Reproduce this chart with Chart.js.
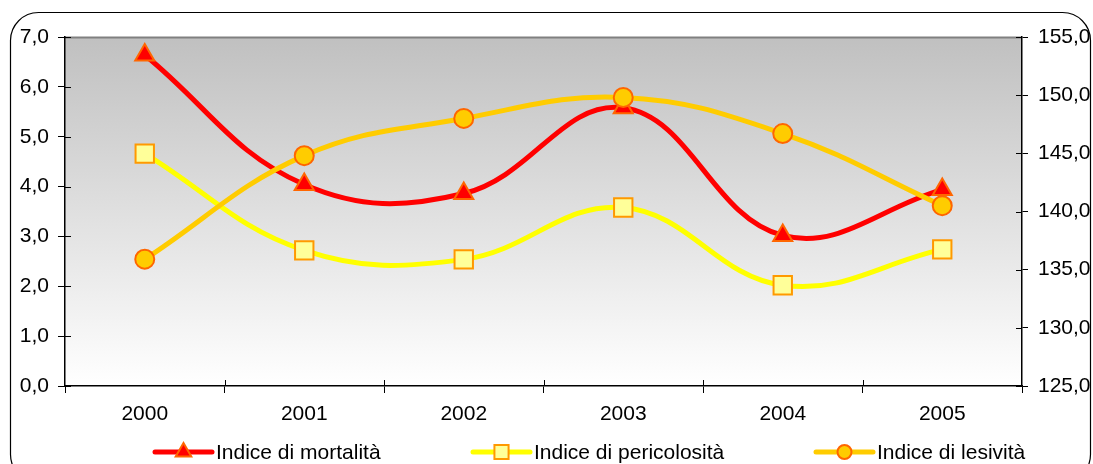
<!DOCTYPE html>
<html>
<head>
<meta charset="utf-8">
<script src="https://cdn.jsdelivr.net/npm/chart.js@4"></script>
<style>
  html, body { margin: 0; padding: 0; background: #ffffff; }
  #wrap { width: 1093px; height: 464px; }
</style>
</head>
<body>
<div id="wrap"><canvas id="myChart" width="1093" height="464"></canvas></div>
<script>
// Data
var years = ['2000', '2001', '2002', '2003', '2004', '2005'];
var mortalita = [6.64, 4.04, 3.86, 5.58, 3.02, 3.94];
var pericolosita = [4.66, 2.72, 2.54, 3.58, 2.02, 2.74];
var lesivita = [135.9, 144.8, 148.0, 149.8, 146.7, 140.5];
var seriesNames = ['Indice di mortalità', 'Indice di pericolosità', 'Indice di lesività'];

var FONT = '"Liberation Sans", Arial, sans-serif';
Chart.defaults.font.family = FONT;
Chart.defaults.font.size = 21;
Chart.defaults.color = '#000000';

function fmt(v) {
  return Number(v).toFixed(1).replace('.', ',');
}

// background: rounded frame + grey gradient in the plot area
var backgroundPlugin = {
  id: 'bg',
  beforeDraw: function(chart) {
    var ctx = chart.ctx;
    var a = chart.chartArea;
    ctx.save();
    // outer rounded border
    ctx.beginPath();
    ctx.roundRect(10.5, 12.5, 1080, 470, 28);
    ctx.strokeStyle = '#000000';
    ctx.lineWidth = 1.2;
    ctx.stroke();
    // plot area gradient
    var g = ctx.createLinearGradient(0, a.top, 0, a.bottom);
    g.addColorStop(0, '#c0c0c0');
    g.addColorStop(1, '#ffffff');
    ctx.fillStyle = g;
    ctx.fillRect(a.left, a.top, a.right - a.left, a.bottom - a.top);
    // grey top edge
    ctx.beginPath();
    ctx.moveTo(a.left, a.top + 0.5);
    ctx.lineTo(a.right, a.top + 0.5);
    ctx.strokeStyle = '#808080';
    ctx.lineWidth = 2;
    ctx.stroke();
    ctx.restore();
  },
  // tick marks cross the axis lines: add the inner half
  beforeDatasetsDraw: function(chart) {
    var ctx = chart.ctx;
    var a = chart.chartArea;
    var inner = 6;
    ctx.save();
    ctx.strokeStyle = '#000000';
    ctx.lineWidth = 1;
    ctx.beginPath();
    chart.scales.y.ticks.forEach(function(t) {
      var py = Math.round(chart.scales.y.getPixelForValue(t.value)) + 0.5;
      ctx.moveTo(a.left, py);
      ctx.lineTo(a.left + inner, py);
    });
    chart.scales.y1.ticks.forEach(function(t) {
      var py = Math.round(chart.scales.y1.getPixelForValue(t.value)) + 0.5;
      ctx.moveTo(a.right, py);
      ctx.lineTo(a.right - inner, py);
    });
    var xs = chart.scales.x;
    var step = (a.right - a.left) / years.length;
    for (var i = 1; i < years.length; i++) {
      var px = Math.round(a.left + step * i) + 0.5;
      ctx.moveTo(px, a.bottom);
      ctx.lineTo(px, a.bottom - inner);
    }
    ctx.stroke();
    ctx.restore();
  }
};

// legend drawn as line + marker, like the spreadsheet legend
var legendPlugin = {
  id: 'lineLegend',
  afterDraw: function(chart) {
    var ctx = chart.ctx;
    var starts = [155, 473, 816];
    var markerSize = [9, 10, 7];
    var len = 57;
    var y = 452;
    ctx.save();
    chart.data.datasets.forEach(function(ds, i) {
      var x0 = starts[i];
      var x1 = x0 + len;
      ctx.beginPath();
      ctx.moveTo(x0, y);
      ctx.lineTo(x1, y);
      ctx.strokeStyle = ds.borderColor;
      ctx.lineWidth = 5;
      ctx.lineCap = 'round';
      ctx.stroke();
      ctx.fillStyle = ds.pointBackgroundColor;
      ctx.strokeStyle = ds.pointBorderColor;
      ctx.lineWidth = ds.pointBorderWidth;
      Chart.helpers.drawPoint(ctx, {
        pointStyle: ds.pointStyle,
        radius: markerSize[i],
        borderWidth: ds.pointBorderWidth,
        rotation: 0
      }, (x0 + x1) / 2, y);
      ctx.fillStyle = '#000000';
      ctx.font = '21px ' + FONT;
      ctx.textBaseline = 'middle';
      ctx.textAlign = 'left';
      ctx.fillText(ds.label, x1 + 4, y + 1);
    });
    ctx.restore();
  }
};

var ctx = document.getElementById('myChart').getContext('2d');
var myChart = new Chart(ctx, {
  type: 'line',
  data: {
    labels: years,
    datasets: [{
      label: seriesNames[0],
      data: mortalita,
      yAxisID: 'y',
      borderColor: '#ff0000',
      borderWidth: 5,
      tension: 0.4,
      pointStyle: 'triangle',
      pointRadius: 11,
      pointBackgroundColor: '#ff0000',
      pointBorderColor: '#ff6600',
      pointBorderWidth: 2,
      order: 1
    }, {
      label: seriesNames[1],
      data: pericolosita,
      yAxisID: 'y',
      borderColor: '#ffff00',
      borderWidth: 5,
      tension: 0.4,
      pointStyle: 'rect',
      pointRadius: 13,
      pointBackgroundColor: '#ffff99',
      pointBorderColor: '#ff9900',
      pointBorderWidth: 2,
      order: 2
    }, {
      label: seriesNames[2],
      data: lesivita,
      yAxisID: 'y1',
      borderColor: '#ffcc00',
      borderWidth: 5,
      tension: 0.4,
      pointStyle: 'circle',
      pointRadius: 9.5,
      pointBackgroundColor: '#ffcc00',
      pointBorderColor: '#ff6600',
      pointBorderWidth: 2,
      order: 0
    }]
  },
  options: {
    responsive: false,
    animation: false,
    layout: { padding: { top: 37, left: 0, right: 0, bottom: 0 } },
    plugins: {
      legend: { display: false },
      tooltip: { enabled: false }
    },
    scales: {
      x: {
        offset: true,
        grid: { offset: true, drawOnChartArea: false, drawTicks: true, tickLength: 7, color: '#000000', lineWidth: 1 },
        border: { display: true, color: '#000000', width: 1.5 },
        ticks: { padding: 9 },
        afterFit: function(scale) { scale.height = 78; }
      },
      y: {
        position: 'left',
        min: 0,
        max: 7,
        ticks: { stepSize: 1, padding: 9, callback: function(v) { return fmt(v); } },
        grid: { drawOnChartArea: false, drawTicks: true, tickLength: 7, color: '#000000' },
        border: { display: true, color: '#000000', width: 1.5 },
        afterFit: function(scale) { scale.width = 65; }
      },
      y1: {
        position: 'right',
        min: 125,
        max: 155,
        ticks: { stepSize: 5, padding: 10, callback: function(v) { return fmt(v); } },
        grid: { drawOnChartArea: false, drawTicks: true, tickLength: 6, color: '#000000' },
        border: { display: true, color: '#000000', width: 1.5 },
        afterFit: function(scale) { scale.width = 71; }
      }
    }
  },
  plugins: [backgroundPlugin, legendPlugin]
});
</script>
</body>
</html>
